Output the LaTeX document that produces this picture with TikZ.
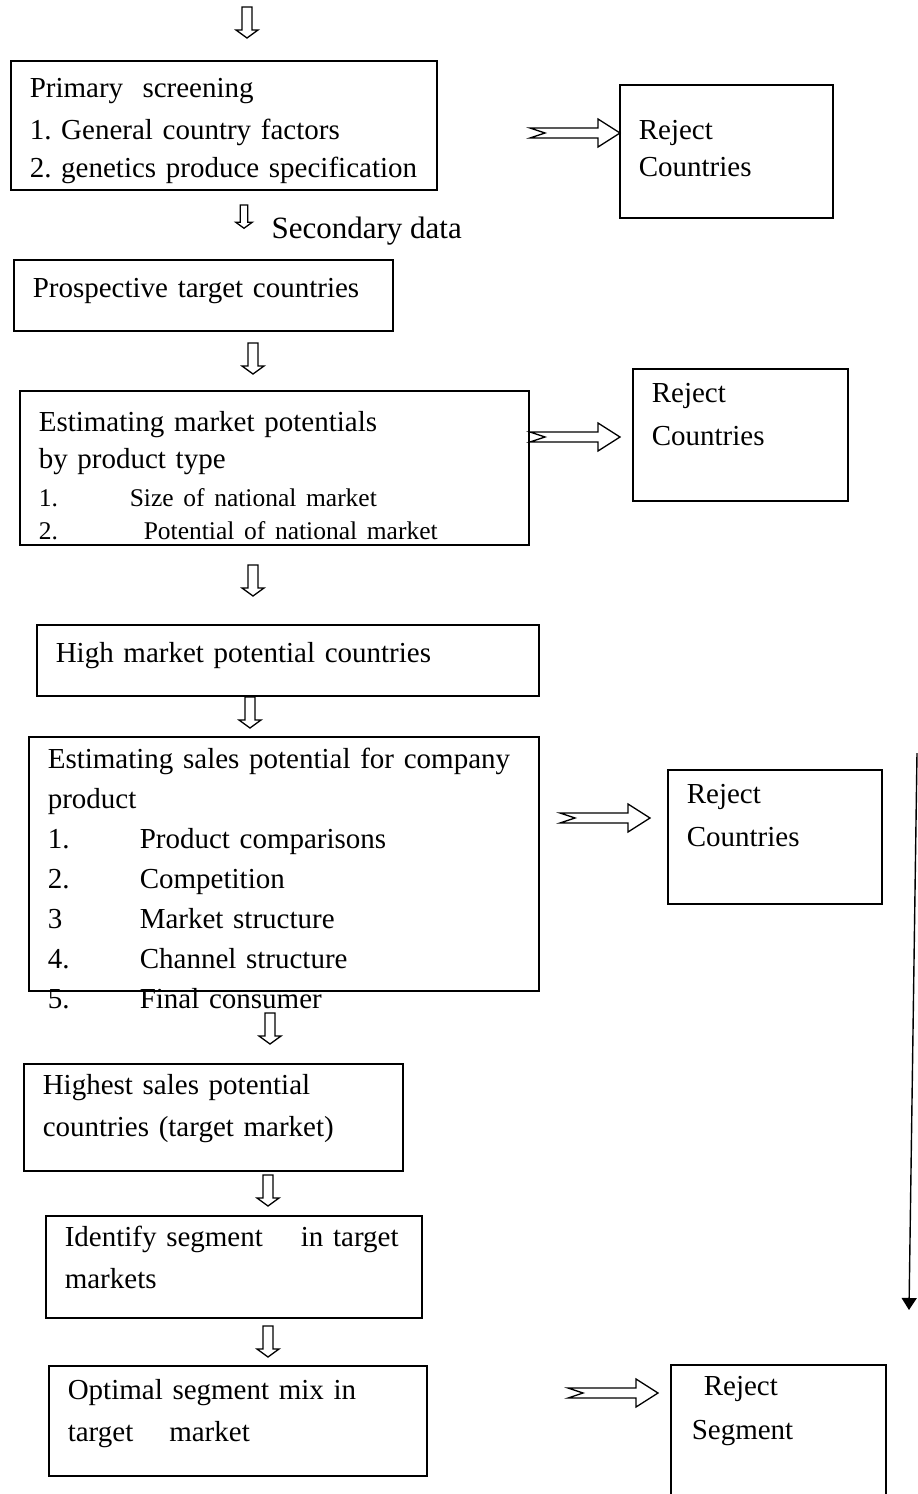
\documentclass[tikz,border=0pt]{standalone}
\usepackage{fontspec}
\setmainfont{Liberation Serif}
\frenchspacing
\usetikzlibrary{positioning, arrows.meta}
\tikzset{box/.style={draw, line width=1.6pt, anchor=north west, align=left, inner xsep=19pt, inner ysep=0pt, font=\fontsize{29}{#1}\selectfont}, box/.default=37}
\tikzset{dnarr/.pic={\draw[line width=1.3pt] (-5,0) -- (5,0) -- (5,23) -- (11,23) -- (0,31) -- (-11,23) -- (-5,23) -- cycle;}}
\tikzset{rtarr/.pic={\draw[line width=1.3pt] (0,0) -- (-22,-14) -- (-22,-5) -- (-90,-5) -- (-75,0) -- (-90,5) -- (-22,5) -- (-22,14) -- cycle;}}
\newcommand\lnum[2][92pt]{\makebox[#1][l]{#2}}
\begin{document}
\begin{tikzpicture}[x=1pt, y=-1pt]
        \useasboundingbox (0,0) rectangle (918,1494);
        \pic at (247,7) {dnarr};
		\node[box=40, text width=388, text height=37, text depth=92] (screen) at (10,60)
            {Primary\ \ screening\\[2pt] 1. General country factors\\[-2pt] 2. genetics produce specification};
		\node[box, text width=175, text height=55, text depth=78] (rej1) at (619,84) {Reject\\ Countries};
        \pic at (620,133) {rtarr};
        \pic[scale=0.75] at (244,205) {dnarr};
        \node[anchor=base west, font=\fontsize{31}{37}\selectfont] (secdata) at (268,238) {Secondary data};
		\node[box, text width=341, text height=38, text depth=33] (prosp) at (13,259) {Prospective target countries};
        \pic at (253,343) {dnarr};
		\node[box, text width=471, text height=41, text depth=113] (mktpot) at (19,390)
            {Estimating market potentials\\ by product type\\[1pt]
             {\fontsize{25.5}{32}\selectfont\lnum[91pt]{1.}Size of national market}\\[-4pt]
             {\fontsize{25.5}{32}\selectfont\lnum[105pt]{2.}Potential of national market}};
		\node[box=43, text width=177, text height=34, text depth=98] (rej2) at (632,368) {Reject\\ Countries};
        \pic at (620,437) {rtarr};
        \pic at (253,565) {dnarr};
		\node[box, text width=464, text height=38, text depth=33] (highmkt) at (36,624) {High market potential countries};
        \pic at (250,697) {dnarr};
		\node[box=40, text width=472, text height=32, text depth=222] (salespot) at (28,736)
            {Estimating sales potential for company\\ product\\
             \lnum{1.}Product comparisons\\ \lnum{2.}Competition\\ \lnum{3}Market structure\\
             \lnum{4.}Channel structure\\ \lnum{5.}Final consumer};
		\node[box=43, text width=176, text height=34, text depth=100] (rej3) at (667,769) {Reject\\ Countries};
        \pic at (650,818) {rtarr};
        \pic at (270,1013) {dnarr};
		\node[box=42, text width=341, text height=31, text depth=76] (highest) at (23,1063)
            {Highest sales potential\\ countries (target market)};
        \pic at (268,1175) {dnarr};
		\node[box=42, text width=338, text height=31, text depth=71] (ident) at (45,1215)
            {Identify segment\hspace{38pt}in target\\ markets};
        \pic at (268,1326) {dnarr};
		\node[box=42, text width=340, text height=34, text depth=76] (optmix) at (48,1365)
            {Optimal segment mix in\\ target\hspace{36pt}market};
        \pic at (658,1393) {rtarr};
		\node[box=44, text width=173, inner xsep=21pt, text height=31, text depth=136] (rej4) at (670,1364)
            {\hspace*{12pt}Reject\\ Segment};
        \coordinate (lnA) at (917,753);
        \coordinate (lnB) at (909,1310);
		\draw[line width=1.4pt, -{Triangle[length=12pt, width=15pt]}] (lnA) -- (lnB);
	\end{tikzpicture}
\end{document}
